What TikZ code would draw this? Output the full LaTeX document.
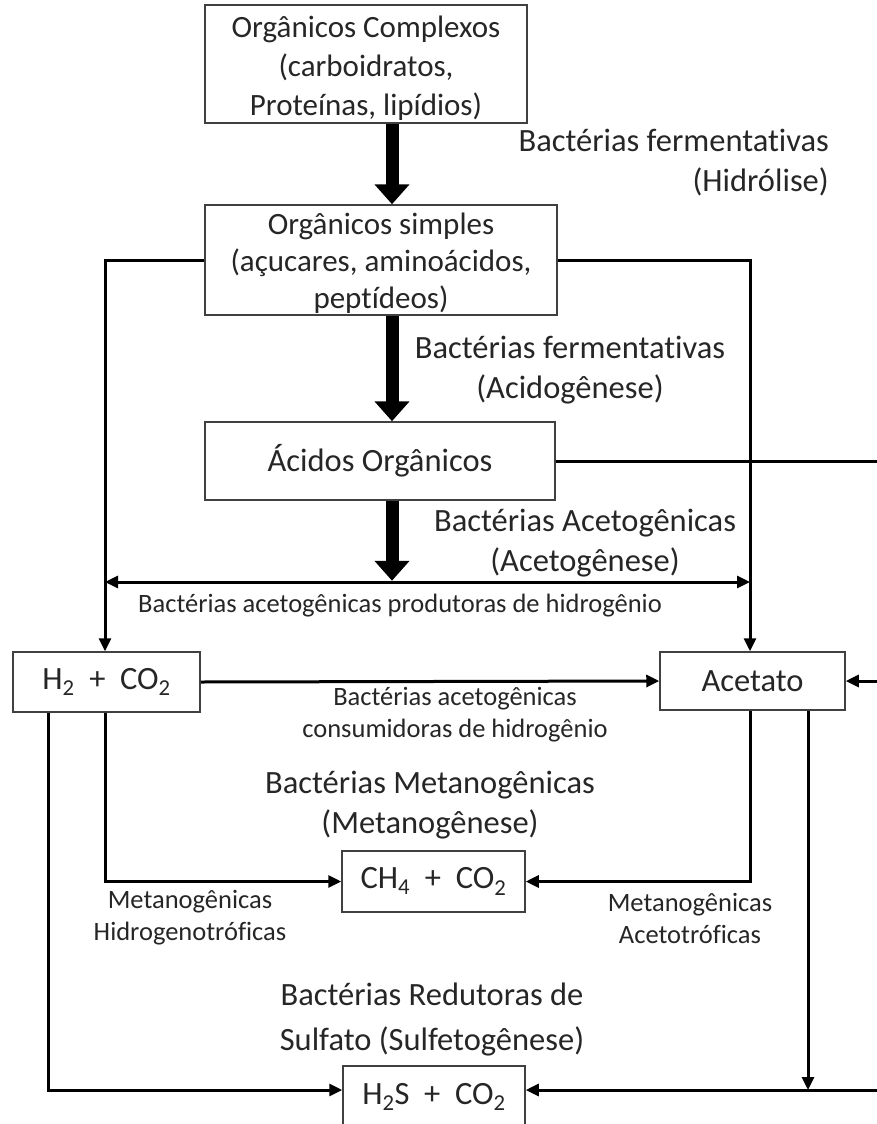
\documentclass[tikz,border=0pt]{standalone}
\usepackage{fontspec}
\setmainfont{Carlito}[Ligatures=NoCommon]
\usepackage{xcolor}
\usepackage{tikz}
\usetikzlibrary{arrows.meta, positioning, calc}
\tikzset{
    caixa/.style={
        rectangle,
        draw=black!75,
        line width=1.5pt,
        fill=white,
        align=center,
        text=black!85,
        font=\fontsize{32.5}{40}\selectfont,
        inner sep=0pt,
    },
    rotulo/.style={
        align=center,
        text=black!85,
        font=\fontsize{32.5}{40}\selectfont,
        inner sep=0pt,
    },
    rotulopeq/.style={
        align=center,
        text=black!85,
        font=\fontsize{26.5}{32}\selectfont,
        inner sep=0pt,
    },
    seta/.style={
        line width=3pt,
        -{Triangle[length=13pt,width=12pt]},
    },
    setagrossa/.style={
        line width=13pt,
        -{Triangle[length=20pt,width=34pt]},
    },
}
\newcommand{\sub}[1]{\textsubscript{#1}}
\begin{document}
\begin{tikzpicture}[x=1pt,y=-1pt]
      \useasboundingbox (0,0) rectangle (876,1124);

      % caixas
      \node [caixa, minimum width=322pt, text height=110pt, text depth=8pt, font=\fontsize{31}{39}\selectfont] (complexos) at (366,64) {Orgânicos Complexos\\(carboidratos,\\Proteínas, lipídios)};
      \node [caixa, minimum width=352pt, text height=103pt, text depth=7pt, font=\fontsize{31}{37}\selectfont] (simples) at (381,260) {Orgânicos simples\\(açucares, aminoácidos,\\peptídeos)};
      \node [caixa, minimum width=350pt, minimum height=78pt] (acidos) at (380,461) {Ácidos Orgânicos};
      \node [caixa, minimum width=187pt, minimum height=60pt] (hidro) at (106.5,682) {H\sub{2} ~+~ CO\sub{2}};
      \node [caixa, minimum width=185pt, minimum height=58pt] (acetato) at (752.5,681) {Acetato};
      \node [caixa, minimum width=183pt, minimum height=61pt] (metano) at (433.5,881.5) {CH\sub{4} ~+~ CO\sub{2}};
      \node [caixa, minimum width=182pt, minimum height=62pt] (sulfeto) at (434,1097) {H\sub{2}S ~+~ CO\sub{2}};

      % rotulos
      \node [rotulo, align=right, anchor=east] (hidrolise) at (829,163) {Bactérias fermentativas\\(Hidrólise)};
      \node [rotulo] (acidogenese) at (570,370) {Bactérias fermentativas\\(Acidogênese)};
      \node [rotulo] (acetogenese) at (585,543) {Bactérias Acetogênicas\\(Acetogênese)};
      \node [rotulopeq] (produtoras) at (400,606) {Bactérias acetogênicas produtoras de hidrogênio};
      \node [rotulopeq] (consumidoras) at (455,715) {Bactérias acetogênicas\\consumidoras de hidrogênio};
      \node [rotulo] (metanogenese) at (430,805) {Bactérias Metanogênicas\\(Metanogênese)};
      \node [rotulopeq] (hidrogenotr) at (190,918) {Metanogênicas\\Hidrogenotróficas};
      \node [rotulopeq] (acetotr) at (690,918) {Metanogênicas\\Acetotróficas};
      \node [rotulo, font=\fontsize{32.5}{45}\selectfont] (sulfetogenese) at (432,1019) {Bactérias Redutoras de\\Sulfato (Sulfetogênese)};

      \coordinate (meio) at (0,582);
      \coordinate (borda) at (895,461);
      \coordinate (linhasulf) at (0,1090);

      % setas grossas
      \draw [setagrossa] ([xshift=26pt]complexos.south) -- ([xshift=11pt]simples.north);
      \draw [setagrossa] ([xshift=11pt]simples.south) -- ([xshift=12pt]acidos.north);
      \draw [setagrossa] ([xshift=12pt]acidos.south) -- ++(0,80);

      % setas finas
      \draw [seta] (simples.west) -| ([xshift=-1.5pt]hidro.north);
      \draw [seta] (simples.east) -| ([xshift=-2.5pt]acetato.north);
      \draw [seta, {Triangle[length=13pt,width=12pt]}-{Triangle[length=13pt,width=12pt]}] ([xshift=-1.5pt]hidro.north |- meio) -- ([xshift=-2.5pt]acetato.north |- meio);
      \draw [seta] (acidos.east) -- (borda) -- (borda |- acetato.east) -- (acetato.east);
      \draw [seta] (hidro.east) -- (acetato.west);
      \draw [seta] ([xshift=-1.5pt]hidro.south) |- (metano.west);
      \draw [seta] ([xshift=-2.5pt]acetato.south) |- (metano.east);
      \draw [seta] ([xshift=-58.5pt]hidro.south) |- ([yshift=7pt]sulfeto.west);
      \draw [seta] ([xshift=55.5pt]acetato.south) -- ([xshift=55.5pt]acetato.south |- linhasulf);
      \draw [seta] (borda |- linhasulf) -- ([yshift=7pt]sulfeto.east);
\end{tikzpicture}
\end{document}
